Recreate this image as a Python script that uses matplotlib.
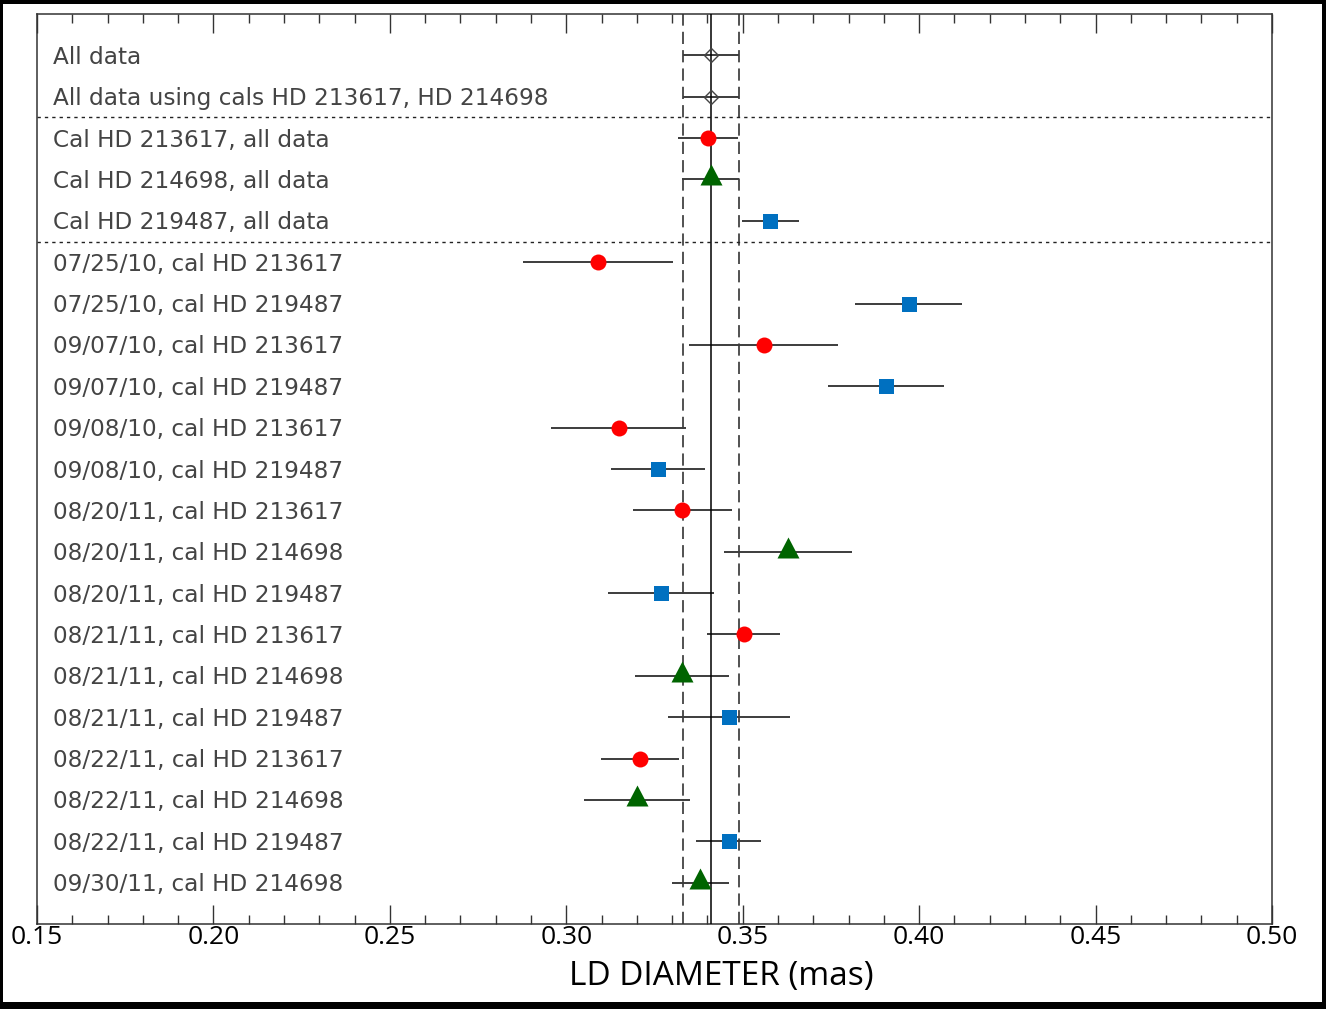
import numpy as np
import matplotlib.pyplot as plt
from matplotlib.patches import Rectangle

labels = [
    'All data',
    'All data using cals HD 213617, HD 214698',
    'Cal HD 213617, all data',
    'Cal HD 214698, all data',
    'Cal HD 219487, all data',
    '07/25/10, cal HD 213617',
    '07/25/10, cal HD 219487',
    '09/07/10, cal HD 213617',
    '09/07/10, cal HD 219487',
    '09/08/10, cal HD 213617',
    '09/08/10, cal HD 219487',
    '08/20/11, cal HD 213617',
    '08/20/11, cal HD 214698',
    '08/20/11, cal HD 219487',
    '08/21/11, cal HD 213617',
    '08/21/11, cal HD 214698',
    '08/21/11, cal HD 219487',
    '08/22/11, cal HD 213617',
    '08/22/11, cal HD 214698',
    '08/22/11, cal HD 219487',
    '09/30/11, cal HD 214698',
]
cal = ['all', 'all', '213617', '214698', '219487',
       '213617', '219487', '213617', '219487', '213617', '219487',
       '213617', '214698', '219487', '213617', '214698', '219487',
       '213617', '214698', '219487', '214698']
diam = [0.3410, 0.3410, 0.3402, 0.3409, 0.3578,
        0.3090, 0.3970, 0.3559, 0.3907, 0.3148, 0.3261,
        0.3329, 0.3629, 0.3268, 0.3503, 0.3328, 0.3461,
        0.3209, 0.3200, 0.3460, 0.3380]
err = [0.0080, 0.0080, 0.0084, 0.0080, 0.0081,
       0.0212, 0.0151, 0.0211, 0.0164, 0.0190, 0.0133,
       0.0140, 0.0182, 0.0151, 0.0103, 0.0132, 0.0172,
       0.0110, 0.0151, 0.0092, 0.0081]

mean_diam = 0.341
mean_err = 0.008
group_breaks = [1.5, 4.5]

tri = [(0, 15), (-11, -6), (11, -6), (0, 15)]
styles = {
    'all':    dict(marker='D', ms=7, mfc='none', mec='#444444', mew=1.0),
    '213617': dict(marker='o', ms=11.5, mfc='#ff0000', mec='#ff0000', mew=0),
    '214698': dict(marker=tri, ms=21.6, mfc='#006400', mec='#006400', mew=0),
    '219487': dict(marker='s', ms=10.8, mfc='#0070c0', mec='#0070c0', mew=0),
}

fig = plt.figure(figsize=(13.26, 10.09), dpi=100)
ax = fig.add_axes([37/1326, 1-924/1009, 1235/1326, 910/1009])

y = np.arange(len(labels))
ax.errorbar(diam, y, xerr=err, fmt='none', ecolor='#3c3c3c', elinewidth=1.4,
            capsize=0, zorder=2)

ax.axvline(mean_diam, color='k', lw=1.1, zorder=3)
for v in (mean_diam - mean_err, mean_diam + mean_err):
    ax.axvline(v, color='#222222', lw=1.1, ls=(0, (8, 4)), zorder=1)
for b in group_breaks:
    ax.axhline(b, color='#222222', lw=1.0, ls=(0, (2.4, 2.9)), zorder=1)

for key, st in styles.items():
    idx = [i for i, c in enumerate(cal) if c == key]
    ax.plot([diam[i] for i in idx], [y[i] for i in idx], ls='none',
            zorder=4, **st)

for i, lab in enumerate(labels):
    ax.text(0.013, i + 0.05, lab, transform=ax.get_yaxis_transform(),
            ha='left', va='center', fontsize=16.7, color='#444444',
            family='DejaVu Sans')

ax.set_xlim(0.15, 0.50)
ax.set_ylim(21, -1)
ax.set_xticks(np.arange(0.15, 0.501, 0.05))
ax.set_xticks(np.arange(0.15, 0.501, 0.01), minor=True)
ax.set_xticklabels(['%.2f' % t for t in np.arange(0.15, 0.501, 0.05)],
                   family='Open Sans', fontsize=19)
ax.tick_params(axis='x', which='both', direction='in', top=True,
               bottom=True, width=1.0, color='#333333', pad=1)
ax.tick_params(axis='x', which='major', length=13.7)
ax.tick_params(axis='x', which='minor', length=6.5)
ax.set_yticks([])
for s in ax.spines.values():
    s.set_color('#333333')
    s.set_linewidth(1.1)

fig.text(721/1326, 1-977/1009, 'LD DIAMETER (mas)', ha='center', va='center',
         family='Open Sans', fontsize=24)

# black frame round the picture
for r in [(0, 1-4/1009, 1, 4/1009), (0, 0, 1, 7/1009),
          (0, 0, 3/1326, 1), (1-4/1326, 0, 4/1326, 1)]:
    fig.add_artist(Rectangle(r[:2], r[2], r[3], transform=fig.transFigure,
                             color='k', lw=0))

fig.savefig('out.png', dpi=100)
